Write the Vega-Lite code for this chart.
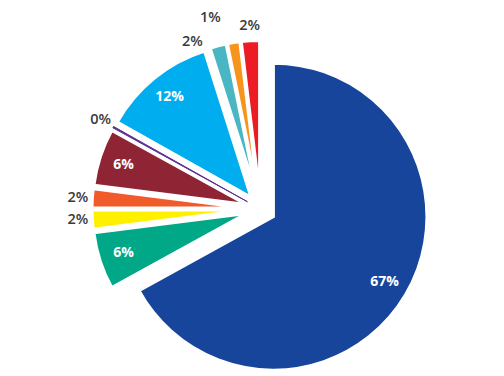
{
  "$schema": "https://vega.github.io/schema/vega-lite/v6.json",
  "width": 487,
  "height": 334,
  "autosize": {"type": "none"},
  "padding": {"left": 17, "top": 42, "right": 0, "bottom": 0},
  "background": "white",
  "view": {"stroke": null},
  "data": {
    "values": [
      {"id": 1, "name": "A", "share": 67.0, "label": "67%"},
      {"id": 2, "name": "B", "share": 6.0, "label": "6%"},
      {"id": 3, "name": "C", "share": 2.0, "label": "2%"},
      {"id": 4, "name": "D", "share": 2.0, "label": "2%"},
      {"id": 5, "name": "E", "share": 6.0, "label": "6%"},
      {"id": 6, "name": "F", "share": 0.15, "label": "0%"},
      {"id": 7, "name": "G", "share": 11.95, "label": "12%"},
      {"id": 8, "name": "H", "share": 1.7, "label": "2%"},
      {"id": 9, "name": "I", "share": 1.3, "label": "1%"},
      {"id": 10, "name": "J", "share": 1.9, "label": "2%"}
    ]
  },
  "encoding": {
    "theta": {"field": "share", "type": "quantitative", "stack": true},
    "order": {"field": "id", "type": "quantitative"},
    "detail": {"field": "id", "type": "nominal"}
  },
  "layer": [
    {
      "mark": {
        "type": "arc",
        "outerRadius": 153.5,
        "x": {"expr": "width/2 + 15*sin(PI*(datum.share_start+datum.share_end)/100)"},
        "y": {"expr": "height/2 - 15*cos(PI*(datum.share_start+datum.share_end)/100)"}
      },
      "encoding": {
        "color": {
          "field": "id",
          "type": "nominal",
          "scale": {
            "domain": [1, 2, 3, 4, 5, 6, 7, 8, 9, 10],
            "range": ["#17459c", "#00a887", "#fff000", "#f15a29", "#8f2434", "#5c2d91", "#00aeef", "#4ab6c4", "#f7941d", "#ed1c24"]
          },
          "legend": null
        },
        "stroke": {"condition": {"test": "datum.id == 6", "value": "#5c2d91"}, "value": "white"},
        "strokeWidth": {"condition": {"test": "datum.id == 6", "value": 1}, "value": 3}
      }
    },
    {
      "mark": {
        "type": "text",
        "font": "Open Sans",
        "align": "center",
        "baseline": "middle",
        "radius": {"expr": "datum.share >= 5 ? 129 : 168"},
        "fontSize": {"expr": "datum.share >= 5 ? 14 : 14.5"},
        "fontWeight": {"expr": "datum.share >= 5 ? 'bold' : 600"},
        "x": {"expr": "width/2 + 15*sin(PI*(datum.share_start+datum.share_end)/100)"},
        "y": {"expr": "height/2 - 15*cos(PI*(datum.share_start+datum.share_end)/100)"},
        "dx": {"expr": "datum.id == 8 ? -22 : datum.id == 9 ? -21 : 0"},
        "dy": {"expr": "datum.id == 8 ? 10 : datum.id == 9 ? -10 : 0"}
      },
      "encoding": {
        "text": {"field": "label", "type": "nominal"},
        "color": {"condition": {"test": "datum.share >= 5", "value": "white"}, "value": "#3a3a3a"}
      }
    }
  ]
}
